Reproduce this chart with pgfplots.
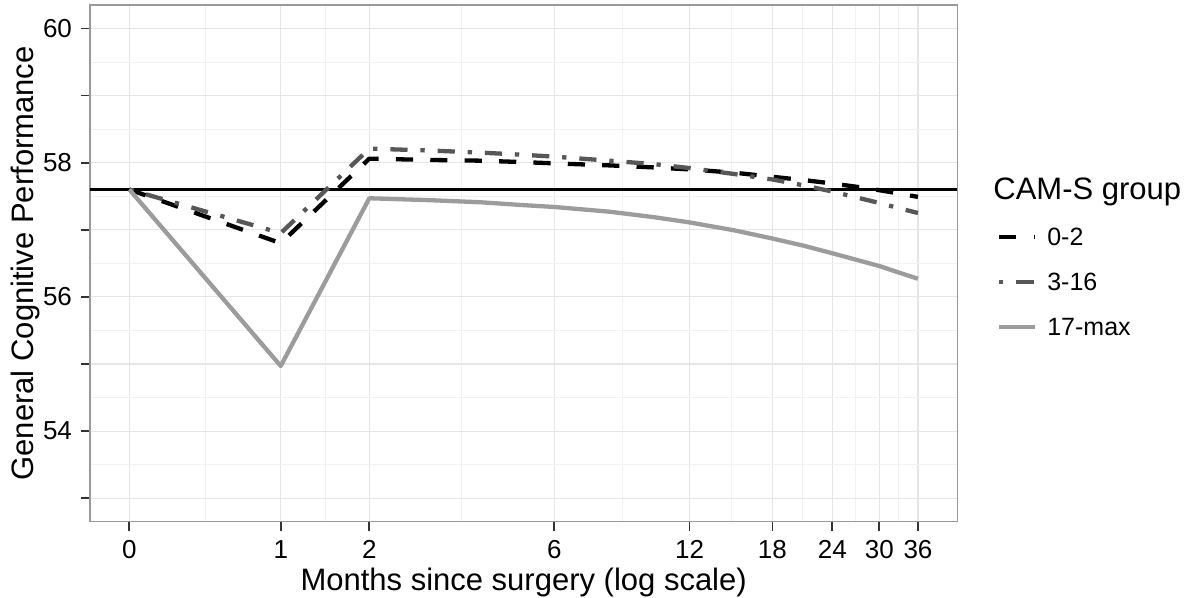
\documentclass[border=0pt]{standalone}
\usepackage{fontspec}
\setmainfont{Liberation Sans}
\usepackage{pgfplots}
\pgfplotsset{compat=1.18}
\definecolor{cA}{HTML}{000000}
\definecolor{cB}{HTML}{575757}
\definecolor{cC}{HTML}{9C9C9C}
\definecolor{gmaj}{HTML}{E6E6E6}
\definecolor{gmin}{HTML}{F2F2F2}
\definecolor{frame}{HTML}{9A9A9A}
\begin{document}
\begin{tikzpicture}
\path[use as bounding box] (-45pt,-38.15pt) rectangle (550.5pt,260.85pt);
\begin{axis}[
  at={(0,0)}, anchor=south west,
  scale only axis, width=433.65pt, height=258.35pt,
  xmode=log, xmin=0.835, xmax=44.3, ymin=52.65, ymax=60.35,
  /pgf/number format/assume math mode=true,
  xtick={1,2,3,7,13,19,25,31,37},
  xticklabels={0,1,2,6,12,18,24,30,36},
  minor xtick={1.414,2.449,4.583,9.539,15.716,21.794,27.839,33.867},
  ytick={53,54,55,56,57,58,59,60},
  yticklabels={,54,,56,,58,,60},
  minor ytick={53.5,54.5,55.5,56.5,57.5,58.5,59.5},
  grid=both,
  major grid style={draw=gmaj, line width=0.55pt},
  minor grid style={draw=gmin, line width=0.4pt},
  tick align=outside,
  major tick length=4.5pt, minor tick length=0pt,
  tick style={draw=black!80, line width=0.9pt},
  xtick pos=bottom, ytick pos=left,
  axis line style={draw=frame, line width=0.8pt},
  tick label style={font=\fontsize{13}{15}\selectfont, text=black},
  xticklabel style={yshift=-1.5pt},
  yticklabel style={xshift=-1pt},
  xlabel={Months since surgery (log scale)},
  ylabel={General Cognitive Performance},
  label style={font=\fontsize{15.5}{18}\selectfont},
  xlabel style={at={(axis description cs:0.5,0)}, anchor=base, yshift=-34.6pt},
  ylabel style={at={(axis description cs:-0.0657,0.5)}, anchor=base, rotate=0},
  legend style={draw=none, fill=none, inner sep=0pt, outer sep=0pt,
    at={(axis description cs:1.0458,0.5683)}, anchor=north west,
    font=\fontsize{12.5}{14}\selectfont,
    nodes={inner sep=0pt, text height=8.95pt, text depth=0pt},
    row sep=13.55pt, column sep=5pt},
  legend cell align=left,
  legend image code/.code={\draw[#1] (0pt,0pt) -- (18pt,0pt);},
  clip=true,
]
\addplot[black, line width=1.2pt, forget plot] coordinates {(0.835,57.6) (44.3,57.6)};
\addplot[cA, line width=2.15pt, line cap=butt, line join=round, dash pattern=on 8.6pt off 8.6pt] coordinates {
(1,57.6) (2,56.8) (3,58.06) (4,58.04) (5,58.03) (6,58.01) (7,57.99) (9,57.96) (11,57.93) (13,57.90) (16,57.85) (19,57.79) (22,57.74) (25,57.69) (28,57.64) (31,57.59) (34,57.54) (37,57.49)};
\addplot[cB, line width=2.15pt, line cap=butt, line join=round, dash pattern=on 2.15pt off 6.45pt on 8.6pt off 6.45pt] coordinates {
(1,57.6) (2,56.95) (3,58.21) (4,58.18) (5,58.15) (6,58.12) (7,58.09) (9,58.03) (11,57.98) (13,57.92) (16,57.83) (19,57.75) (22,57.66) (25,57.57) (28,57.48) (31,57.40) (34,57.32) (37,57.25)};
\addplot[cC, line width=2.15pt, line cap=butt, line join=round] coordinates {
(1,57.6) (2,54.97) (3,57.47) (4,57.44) (5,57.41) (6,57.37) (7,57.34) (9,57.27) (11,57.19) (13,57.11) (16,56.99) (19,56.87) (22,56.76) (25,56.65) (28,56.55) (31,56.46) (34,56.36) (37,56.27)};
\legend{0-2,3-16,17-max}
\end{axis}
\node[anchor=base west, inner sep=0pt, font=\fontsize{15.5}{18}\selectfont] at (451.5pt,160.85pt) {CAM-S group};
\end{tikzpicture}
\end{document}
